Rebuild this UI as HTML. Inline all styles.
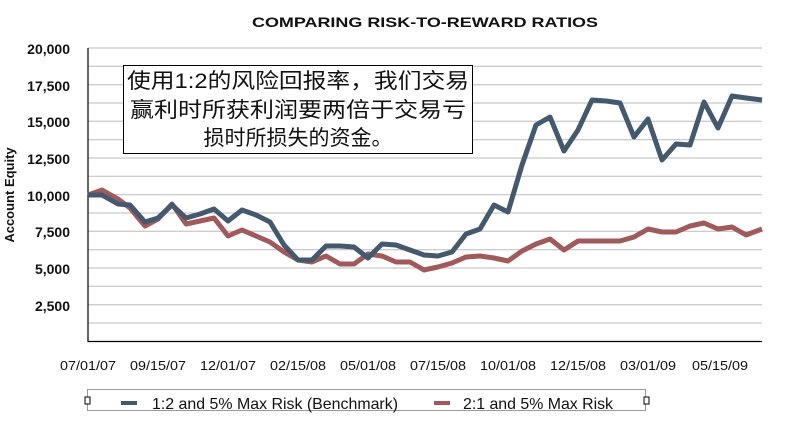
<!DOCTYPE html>
<html><head><meta charset="utf-8"><style>
body{margin:0;background:#fff;width:786px;height:424px;overflow:hidden;font-family:"Liberation Sans","Noto Sans CJK SC",sans-serif}
</style></head><body>
<svg width="786" height="424" xmlns="http://www.w3.org/2000/svg" font-family="Liberation Sans, Noto Sans CJK SC, sans-serif">
<text x="425" y="27" font-size="14" font-weight="bold" text-anchor="middle" fill="#111" textLength="346" lengthAdjust="spacingAndGlyphs">COMPARING RISK-TO-REWARD RATIOS</text>
<g stroke="#bbb" stroke-width="1">
<line x1="88" x2="762" y1="66.3" y2="66.3"/><line x1="88" x2="762" y1="84.7" y2="84.7"/><line x1="88" x2="762" y1="103" y2="103"/><line x1="88" x2="762" y1="121.3" y2="121.3"/><line x1="88" x2="762" y1="139.7" y2="139.7"/><line x1="88" x2="762" y1="158" y2="158"/><line x1="88" x2="762" y1="176.3" y2="176.3"/><line x1="88" x2="762" y1="194.7" y2="194.7"/><line x1="88" x2="762" y1="213" y2="213"/><line x1="88" x2="762" y1="231.3" y2="231.3"/><line x1="88" x2="762" y1="249.7" y2="249.7"/><line x1="88" x2="762" y1="268" y2="268"/><line x1="88" x2="762" y1="286.3" y2="286.3"/><line x1="88" x2="762" y1="304.7" y2="304.7"/><line x1="88" x2="762" y1="323" y2="323"/><line x1="88" x2="762" y1="48" y2="48"/>
</g>
<line x1="88" y1="48" x2="88" y2="342" stroke="#000" stroke-width="1.2"/>
<line x1="88" y1="341.5" x2="762" y2="341.5" stroke="#000" stroke-width="1.2"/>
<g font-size="14" font-weight="bold" text-anchor="end" fill="#111">
<text x="70" y="54">20,000</text><text x="70" y="91">17,500</text><text x="70" y="127">15,000</text><text x="70" y="164">12,500</text><text x="70" y="201">10,000</text><text x="70" y="237">7,500</text><text x="70" y="274">5,000</text><text x="70" y="311">2,500</text>
</g>
<text transform="translate(14,195) rotate(-90)" font-size="13" font-weight="bold" text-anchor="middle" fill="#111">Account Equity</text>
<g font-size="13" text-anchor="middle" fill="#111">
<text x="88" y="370" textLength="56" lengthAdjust="spacingAndGlyphs">07/01/07</text><text x="158" y="370" textLength="56" lengthAdjust="spacingAndGlyphs">09/15/07</text><text x="228" y="370" textLength="56" lengthAdjust="spacingAndGlyphs">12/01/07</text><text x="298" y="370" textLength="56" lengthAdjust="spacingAndGlyphs">02/15/08</text><text x="368" y="370" textLength="56" lengthAdjust="spacingAndGlyphs">05/01/08</text><text x="438" y="370" textLength="56" lengthAdjust="spacingAndGlyphs">07/15/08</text><text x="508" y="370" textLength="56" lengthAdjust="spacingAndGlyphs">10/01/08</text><text x="578" y="370" textLength="56" lengthAdjust="spacingAndGlyphs">12/15/08</text><text x="648" y="370" textLength="56" lengthAdjust="spacingAndGlyphs">03/01/09</text><text x="720" y="370" textLength="56" lengthAdjust="spacingAndGlyphs">05/15/09</text>
</g>
<g fill="none" stroke-width="5" stroke-linejoin="round">
<polyline stroke="#a05a5c" points="88,195 102,190 118,199 130,208 145,226 158,219 172,204 186,224 200,221 214,218 228,236 242,230 256,236 270,242 284,252 298,260 312,262 326,256 340,264 354,264 368,254 382,256 396,262 410,262 424,270 438,267 452,263 466,257 480,256 494,258 508,261 522,251 536,244 550,239 564,250 578,241 592,241 606,241 620,241 634,237 648,229 662,232 676,232 690,226 704,223 718,229 732,227 746,235 762,229"/>
<polyline stroke="#44596e" points="88,195 102,195 118,204 130,205 145,222 158,218 172,205 186,218 200,214 214,209 228,221 242,210 256,215 270,222 284,245 298,260 312,260 326,246 340,246 354,247 368,258 382,244 396,245 410,250 424,255 438,256 452,252 466,234 480,229 494,205 508,212 522,165 536,125 550,117 564,151 578,130 592,100 606,101 620,103 634,137 648,119 662,160 676,144 690,145 704,102 718,128 732,96 746,98 762,100"/>
</g>
<rect x="123.5" y="65.5" width="349" height="88" fill="#fff" stroke="#000"/>
<g font-size="21" text-anchor="middle" fill="#111">
<text x="298" y="88" textLength="342" lengthAdjust="spacingAndGlyphs">使用1:2的风险回报率，我们交易</text>
<text x="298" y="117" textLength="336" lengthAdjust="spacingAndGlyphs">赢利时所获利润要两倍于交易亏</text>
<text x="298" y="145">损时所损失的资金。</text>
</g>
<rect x="87.5" y="389.5" width="558" height="21" fill="#fff" stroke="#999"/>
<rect x="85" y="397" width="5" height="7" fill="#fff" stroke="#000"/>
<rect x="644" y="397" width="5" height="7" fill="#fff" stroke="#000"/>
<line x1="121" x2="137" y1="403" y2="403" stroke="#44596e" stroke-width="4"/>
<line x1="434" x2="450" y1="403" y2="403" stroke="#a05a5c" stroke-width="4"/>
<text x="152" y="409" font-size="16" fill="#111" textLength="246" lengthAdjust="spacingAndGlyphs">1:2 and 5% Max Risk (Benchmark)</text>
<text x="463" y="409" font-size="16" fill="#111" textLength="150" lengthAdjust="spacingAndGlyphs">2:1 and 5% Max Risk</text>
</svg>
</body></html>
